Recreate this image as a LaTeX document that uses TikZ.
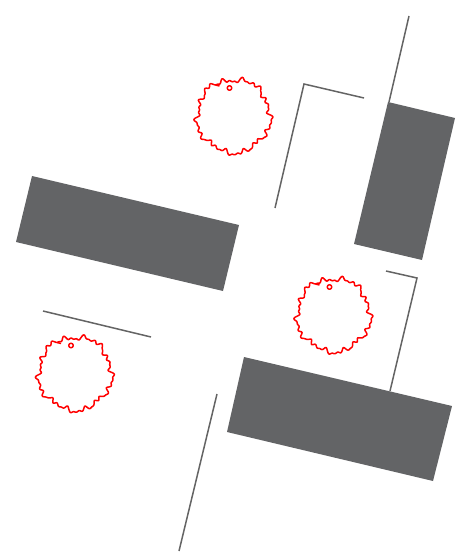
\documentclass[tikz,border=0pt]{standalone}
\usetikzlibrary{calc}
\definecolor{blockgray}{RGB}{99,100,102}
\definecolor{linegray}{RGB}{100,100,100}
\tikzset{
  block/.style={fill=blockgray, draw=none},
  wall/.style={draw=linegray, line width=1.5pt},
  blob/.style={draw=red, line width=1.5pt, line join=round},
  pics/wiggle/.style={code={
    \draw[blob] plot[domain=0:360, samples=300, smooth cycle]
      ({(36.5+1.4*sin(5*\x+20)+1.3*sin(13*\x)+1.2*sin(23*\x+50)+0.9*sin(37*\x+80))*cos(\x)},
       {(36.5+1.4*sin(5*\x+20)+1.3*sin(13*\x)+1.2*sin(23*\x+50)+0.9*sin(37*\x+80))*sin(\x)});
    \draw[blob] (-4,-28) circle (2.3);
    \draw[blob] (-18,-31) -- (-14,-30);
  }}
}
\begin{document}
\begin{tikzpicture}[x=1pt,y=-1pt]
\useasboundingbox (0,0) rectangle (458,553);
% blocks
\fill[block] (32,176) -- (239,225) -- (223,291) -- (16,242) -- cycle;
\fill[block] (388,102) -- (455,118) -- (422,260) -- (354,244) -- cycle;
\fill[block] (244,357) -- (452,406) -- (433,481) -- (227,432) -- cycle;
% walls
\draw[wall] (409,16) -- (389,102);
\draw[wall] (275,208) -- (304,84) -- (364,98);
\draw[wall] (386,271) -- (417,278) -- (390,391);
\draw[wall] (43,311) -- (151,337);
\draw[wall] (217,394) -- (179,551);
% blobs
\pic at (233.5,116) {wiggle};
\pic at (333.5,315) {wiggle};
\pic at (75,373.5) {wiggle};
\end{tikzpicture}
\end{document}
